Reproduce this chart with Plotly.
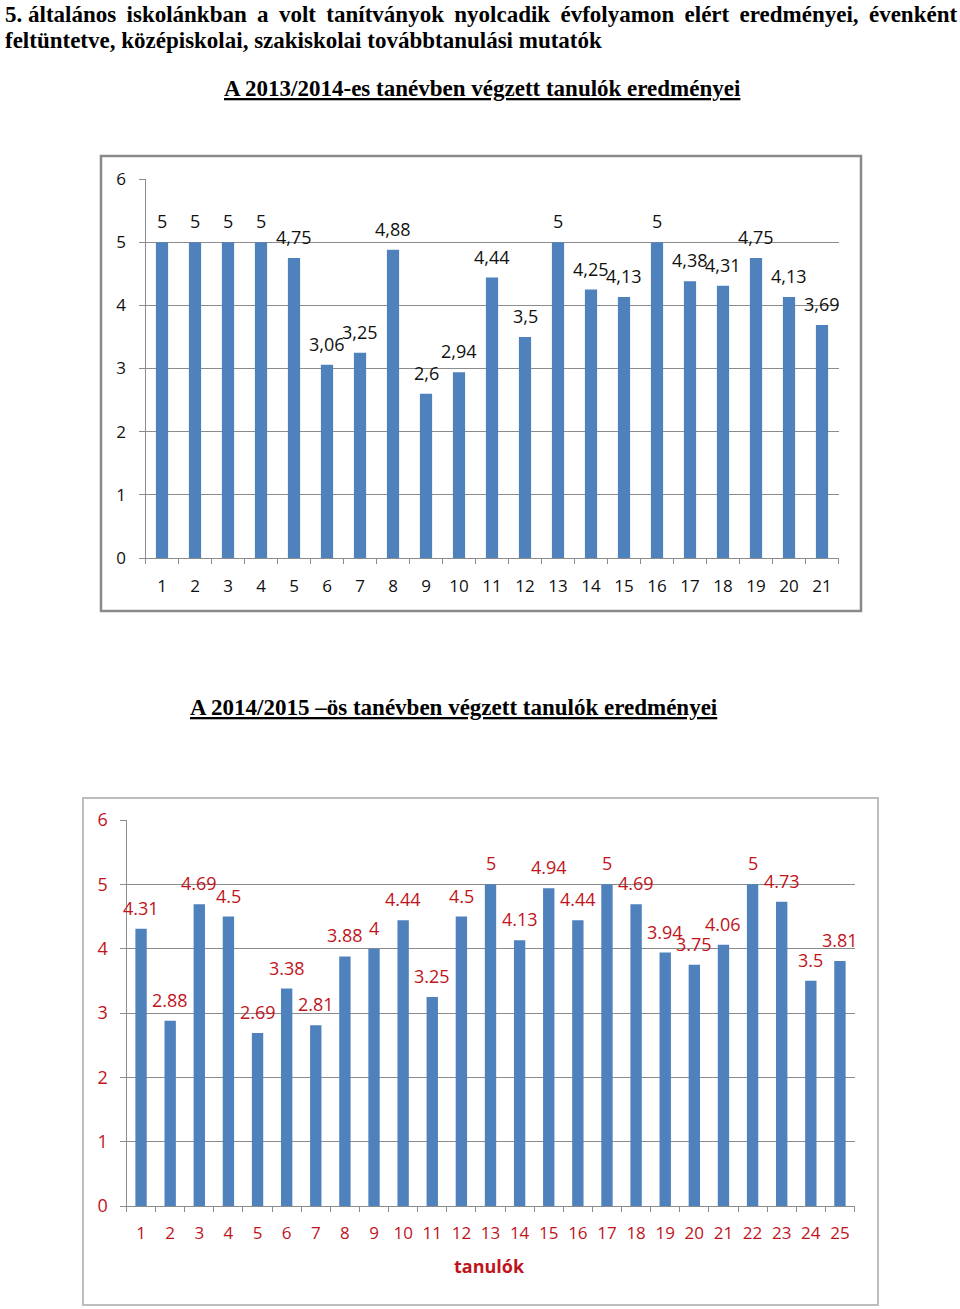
import plotly.graph_objects as go

# ---------------- data ----------------
cats1 = [str(i) for i in range(1, 22)]
vals1 = [5, 5, 5, 5, 4.75, 3.06, 3.25, 4.88, 2.6, 2.94, 4.44, 3.5, 5, 4.25, 4.13, 5, 4.38, 4.31, 4.75, 4.13, 3.69]
cats2 = [str(i) for i in range(1, 26)]
vals2 = [4.31, 2.88, 4.69, 4.5, 2.69, 3.38, 2.81, 3.88, 4, 4.44, 3.25, 4.5, 5, 4.13, 4.94, 4.44, 5, 4.69, 3.94, 3.75, 4.06, 5, 4.73, 3.5, 3.81]
yticks = [0, 1, 2, 3, 4, 5, 6]

heading1_words = ["5. általános", "iskolánkban", "a", "volt", "tanítványok", "nyolcadik",
                  "évfolyamon", "elért", "eredményei,", "évenként"]
heading2 = "feltüntetve, középiskolai, szakiskolai továbbtanulási mutatók"
title1 = "A 2013/2014-es tanévben végzett tanulók eredményei"
title2 = "A 2014/2015 –ös tanévben végzett tanulók eredményei"
xtitle2 = "tanulók"

W, H = 960, 1309
def px(x):
    return x / W
def py(y):
    return 1 - y / H

BLUE = "#4F81BD"
RED = "#C0141C"
GRID = "#8C8C8C"
SANS = "Open Sans, Lato, sans-serif"
SERIF = "Liberation Serif, Times New Roman, serif"

fig = go.Figure()
fig.add_trace(go.Bar(x=cats1, y=vals1, marker_color=BLUE, width=0.37, marker_line_width=0,
                     xaxis="x", yaxis="y", showlegend=False, hoverinfo="skip"))
fig.add_trace(go.Bar(x=cats2, y=vals2, marker_color=BLUE, width=0.39, marker_line_width=0,
                     xaxis="x2", yaxis="y2", showlegend=False, hoverinfo="skip"))

annotations = []
for i, v in enumerate(vals1):
    annotations.append(dict(x=i, y=v, xref="x", yref="y", text=f"{v:g}".replace(".", ","),
                            showarrow=False, yanchor="bottom", yshift=7,
                            font=dict(family=SANS, size=18, color="#111111")))
for i, v in enumerate(vals2):
    annotations.append(dict(x=i, y=v, xref="x2", yref="y2", text=f"{v:g}",
                            showarrow=False, yanchor="bottom", yshift=7,
                            font=dict(family=SANS, size=18, color=RED)))

annotations += [
    dict(x=px(3), y=py(14), xref="paper", yref="paper", xanchor="left", yanchor="middle",
         text="<b>" + " \u2009".join(heading1_words) + "</b>", showarrow=False,
         font=dict(family=SERIF, size=23, color="black")),
    dict(x=px(3), y=py(40), xref="paper", yref="paper", xanchor="left", yanchor="middle",
         text="<b>" + heading2 + "</b>", showarrow=False,
         font=dict(family=SERIF, size=23, color="black")),
    dict(x=px(482), y=py(89), xref="paper", yref="paper", xanchor="center", yanchor="middle",
         text="<b>" + title1 + "</b>", showarrow=False,
         font=dict(family=SERIF, size=23, color="black", lineposition="under")),
    dict(x=px(454), y=py(707), xref="paper", yref="paper", xanchor="center", yanchor="middle",
         text="<b>" + title2 + "</b>", showarrow=False,
         font=dict(family=SERIF, size=23, color="black", lineposition="under")),
    dict(x=px(490), y=py(1266), xref="paper", yref="paper", xanchor="center", yanchor="middle",
         text="<b>" + xtitle2 + "</b>", showarrow=False,
         font=dict(family=SANS, size=18, color=RED)),
]

shapes = [
    dict(type="rect", xref="paper", yref="paper", x0=px(101), x1=px(861), y0=py(611), y1=py(156),
         line=dict(color="#8A8A8A", width=2.5), layer="below"),
    dict(type="rect", xref="paper", yref="paper", x0=px(83), x1=px(878), y0=py(1305), y1=py(798),
         line=dict(color="#BDBDBD", width=2), layer="below"),
]

axis_x_common = dict(type="category", showgrid=False, showline=True, linecolor=GRID, linewidth=1,
                     ticks="outside", tickson="boundaries", ticklen=5, tickcolor=GRID,
                     zeroline=False, automargin=False, tickangle=0)
axis_y_common = dict(range=[0, 6], tickvals=yticks, showgrid=True, gridcolor=GRID, gridwidth=1,
                     showline=True, linecolor=GRID, linewidth=1, ticks="outside", ticklen=6,
                     tickcolor=GRID, zeroline=False, automargin=False)

fig.update_layout(
    template="none",
    width=W, height=H, autosize=False,
    margin=dict(l=0, r=0, t=0, b=0, pad=0),
    paper_bgcolor="white", plot_bgcolor="white",
    xaxis=dict(**axis_x_common, domain=[px(145.5), px(838.5)], anchor="y",
               range=[-0.5, 20.5], ticklabelstandoff=13,
               tickfont=dict(family=SANS, size=17, color="#111111")),
    yaxis=dict(**axis_y_common, domain=[py(558), py(179)], anchor="x", ticklabelstandoff=9,
               tickfont=dict(family=SANS, size=17, color="#111111")),
    xaxis2=dict(**axis_x_common, domain=[px(126.5), px(854.5)], anchor="y2",
                range=[-0.5, 24.5], ticklabelstandoff=12,
                tickfont=dict(family=SANS, size=17, color=RED)),
    yaxis2=dict(**axis_y_common, domain=[py(1206), py(820)], anchor="x2", ticklabelstandoff=8,
                tickfont=dict(family=SANS, size=18, color=RED)),
    annotations=annotations,
    shapes=shapes,
)

fig.write_html(
    "out.html",
    config={"displayModeBar": False},
    post_script="document.body.style.margin='0';"
                "document.body.style.overflow='hidden';"
                "document.documentElement.style.overflow='hidden';",
)
